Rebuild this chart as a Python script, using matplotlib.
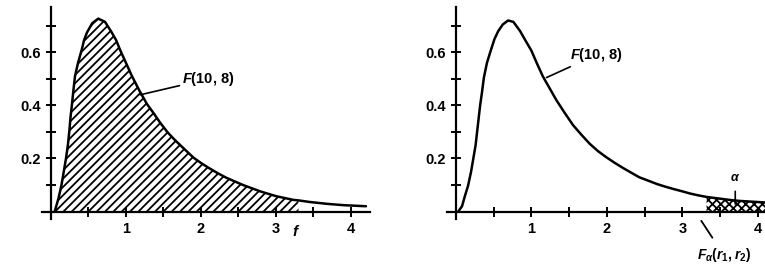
import matplotlib
matplotlib.use("Agg")
import matplotlib.pyplot as plt
import numpy as np

# F(10, 8) density as drawn in each panel
left_x = [0.05, 0.10, 0.14, 0.17, 0.20, 0.225, 0.245, 0.26, 0.28, 0.30, 0.32, 0.36,
          0.41, 0.44, 0.48, 0.55, 0.63, 0.72, 0.81, 0.87, 0.92, 1.00, 1.08, 1.18,
          1.28, 1.37, 1.45, 1.55, 1.65, 1.78, 1.90, 2.00, 2.10, 2.22, 2.34, 2.56,
          2.79, 3.00, 3.23, 3.30, 3.45, 3.68, 3.90, 4.12, 4.20]
left_y = [0.0, 0.05, 0.10, 0.15, 0.20, 0.25, 0.305, 0.355, 0.405, 0.46, 0.51, 0.56,
          0.61, 0.645, 0.675, 0.71, 0.727, 0.715, 0.675, 0.645, 0.61, 0.56, 0.51, 0.455,
          0.405, 0.37, 0.337, 0.30, 0.27, 0.235, 0.203, 0.183, 0.165, 0.145, 0.127, 0.10,
          0.076, 0.058, 0.044, 0.042, 0.036, 0.029, 0.024, 0.021, 0.020]

right_x = [0.03, 0.08, 0.12, 0.16, 0.20, 0.23, 0.26, 0.28, 0.30, 0.32, 0.345, 0.37,
           0.41, 0.46, 0.51, 0.56, 0.62, 0.69, 0.76, 0.85, 0.92, 1.00, 1.07, 1.15,
           1.24, 1.33, 1.44, 1.55, 1.66, 1.77, 1.88, 1.99, 2.10, 2.22, 2.33, 2.43,
           2.55, 2.66, 2.77, 2.88, 3.00, 3.10, 3.21, 3.32, 3.43, 3.54, 3.65, 3.76,
           3.93, 4.10, 4.20]
right_y = [0.0, 0.02, 0.06, 0.097, 0.15, 0.20, 0.25, 0.30, 0.35, 0.40, 0.45, 0.505,
           0.56, 0.606, 0.65, 0.68, 0.705, 0.72, 0.715, 0.68, 0.645, 0.606, 0.56, 0.51,
           0.465, 0.42, 0.372, 0.326, 0.29, 0.256, 0.228, 0.205, 0.184, 0.163, 0.145, 0.129,
           0.116, 0.104, 0.094, 0.085, 0.076, 0.068, 0.061, 0.055, 0.051, 0.047, 0.043, 0.040,
           0.037, 0.034, 0.033]

f_left = 3.30       # end of shaded area, left
f_alpha = 3.32      # start of tail, right
x_ticks = [1, 2, 3, 4]
x_minor = [0.5, 1.5, 2.5, 3.5]
y_ticks = [0.2, 0.4, 0.6]
y_minor = [0.1, 0.3, 0.5, 0.7]

plt.rcParams['font.family'] = ['Liberation Sans', 'DejaVu Sans']
plt.rcParams['mathtext.fontset'] = 'custom'
plt.rcParams['mathtext.rm'] = 'Liberation Sans:bold'
plt.rcParams['mathtext.it'] = 'Liberation Sans:italic:bold'
plt.rcParams['hatch.linewidth'] = 1.3

fig = plt.figure(figsize=(7.65, 2.68), dpi=100)
ax1 = fig.add_axes([0.0549, 0.181, 0.4284, 0.792])
ax2 = fig.add_axes([0.5842, 0.181, 0.4213, 0.792])


def style(ax, xmax):
    ax.set_xlim(-0.12, xmax)
    ax.set_ylim(-0.03, 0.77)
    for s in ['top', 'right']:
        ax.spines[s].set_visible(False)
    for s in ['left', 'bottom']:
        ax.spines[s].set_position(('data', 0))
        ax.spines[s].set_linewidth(1.6)
    ax.set_xticks(x_ticks)
    ax.set_xticklabels([str(t) for t in x_ticks])
    ax.set_xticks(x_minor, minor=True)
    ax.set_yticks(y_ticks)
    ax.set_yticklabels([f"{t:.1f}" for t in y_ticks])
    ax.set_yticks(y_minor, minor=True)
    ax.tick_params(which='both', direction='inout', length=7, width=1.4)
    ax.tick_params(axis='x', pad=4, labelsize=10.5)
    ax.tick_params(axis='y', pad=4, labelsize=10.5)
    for lab in ax.get_xticklabels() + ax.get_yticklabels():
        lab.set_fontweight('bold')
    ax.patch.set_alpha(0)


# left panel: area up to f
style(ax1, 4.25)
lx = np.array(left_x)
ly = np.array(left_y)
ax1.fill_between(lx, 0, ly, where=lx <= f_left, facecolor='none',
                 edgecolor='black', hatch='////', linewidth=0)
ax1.plot(lx, ly, color='black', lw=1.8, solid_capstyle='round')
ax1.annotate('$F$(10, 8)', xy=(1.19, 0.44), xytext=(1.75, 0.50),
             fontsize=10.5, fontweight='bold', va='center', ha='left',
             arrowprops=dict(arrowstyle='-', color='black', lw=1.2,
                             shrinkA=0, shrinkB=0))
ax1.text(f_left - 0.03, -0.075, '$f$', fontsize=11, ha='center', va='center')

# right panel: upper tail beyond F_alpha
style(ax2, 4.15)
rx = np.array(right_x)
ry = np.array(right_y)
ax2.fill_between(rx, 0, ry, where=rx >= f_alpha, facecolor='none',
                 edgecolor='black', hatch='xxxx', linewidth=0)
ax2.plot(rx, ry, color='black', lw=1.8, solid_capstyle='round')
ax2.annotate('$F$(10, 8)', xy=(1.20, 0.505), xytext=(1.51, 0.59),
             fontsize=10.5, fontweight='bold', va='center', ha='left',
             arrowprops=dict(arrowstyle='-', color='black', lw=1.2,
                             shrinkA=0, shrinkB=0))
ax2.annotate(r'$\alpha$', xy=(3.70, 0.028), xytext=(3.70, 0.125),
             fontsize=9, ha='center', va='center',
             arrowprops=dict(arrowstyle='-', color='black', lw=1.2,
                             shrinkA=3, shrinkB=0))
ax2.annotate(r'$F_\alpha(r_1, r_2)$', xy=(3.25, -0.035), xytext=(3.55, -0.165),
             fontsize=10, ha='center', va='center', annotation_clip=False,
             arrowprops=dict(arrowstyle='-', color='black', lw=1.3,
                             shrinkA=5, shrinkB=0))

fig.savefig('out.png', dpi=100)
